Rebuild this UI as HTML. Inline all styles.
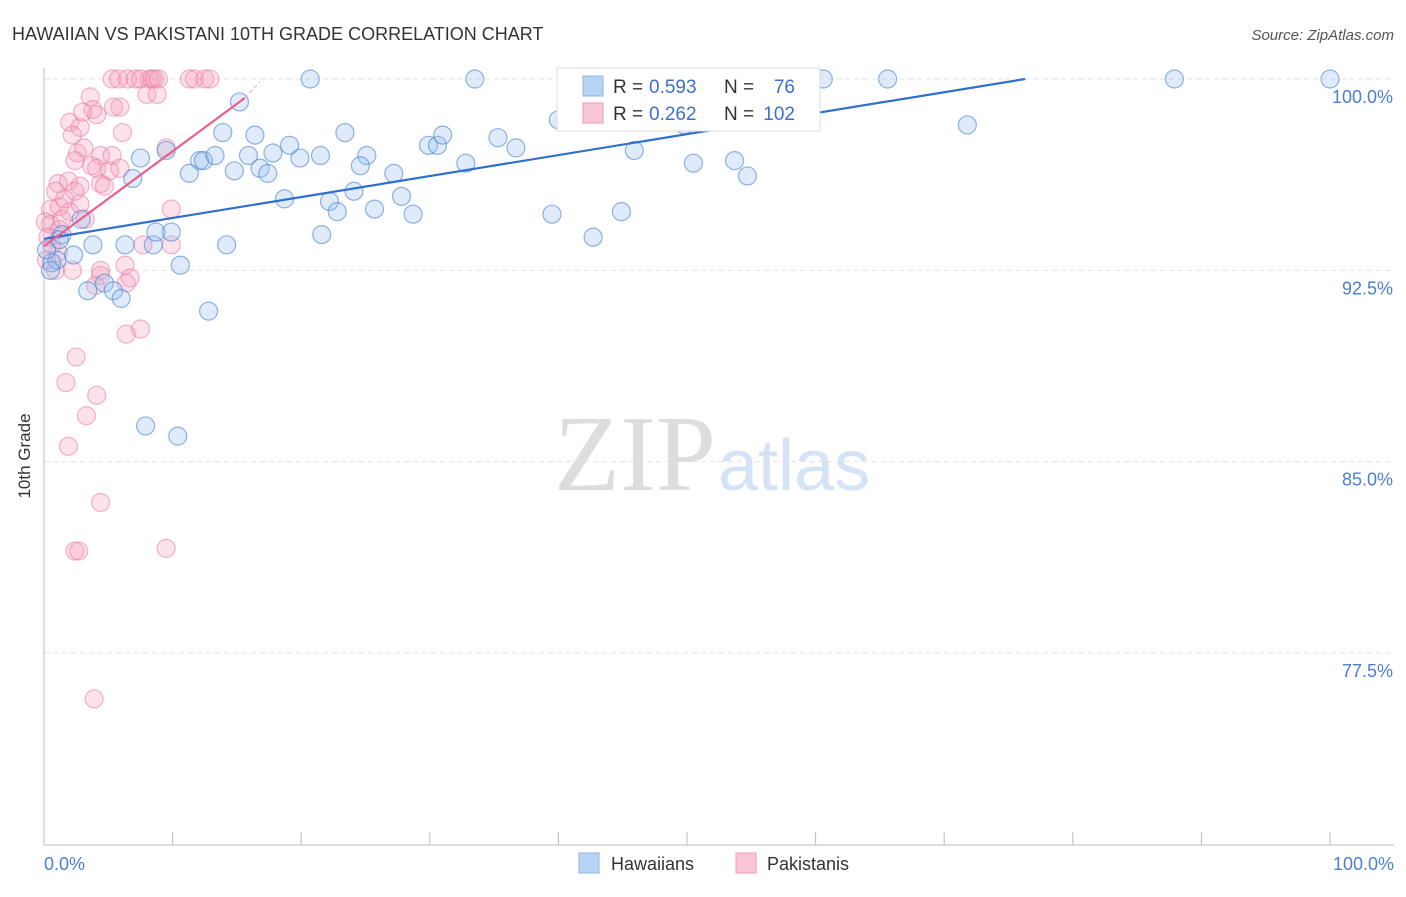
<!DOCTYPE html>
<html><head><meta charset="utf-8"><style>
body{margin:0;background:#fff;font-family:"Liberation Sans",sans-serif}
</style></head><body>
<svg width="1406" height="892" viewBox="0 0 1406 892">
<text x="12" y="40" font-size="18" fill="#333">HAWAIIAN VS PAKISTANI 10TH GRADE CORRELATION CHART</text>
<text x="1394" y="40" font-size="15" fill="#555" text-anchor="end" font-style="italic">Source: ZipAtlas.com</text>
<text x="716" y="490" font-size="108" fill="#ddd" text-anchor="end" font-family="Liberation Serif">ZIP</text>
<text x="718" y="490" font-size="72" fill="#d4e3f5">atlas</text>
<g id="grid"></g>
<line x1="44" y1="68" x2="44" y2="845" stroke="#bbb"/>
<line x1="44" y1="845" x2="1394" y2="845" stroke="#bbb"/>
<g id="pts"></g>
<g id="lines"></g>
<text x="30" y="456" font-size="17" fill="#333" text-anchor="middle" transform="rotate(-90 30 456)">10th Grade</text>
<text x="44" y="870" font-size="18" fill="#4a7fd4">0.0%</text>
<text x="1394" y="870" font-size="18" fill="#4a7fd4" text-anchor="end">100.0%</text>
<g>
<rect x="557" y="68" width="263" height="63" fill="#fff" stroke="#ddd"/>
<rect x="583" y="76" width="20" height="20" fill="#b9d3f5" stroke="#8fb3e8"/>
<rect x="583" y="103" width="20" height="20" fill="#fbc7d6" stroke="#f29ab5"/>
<text x="613" y="93" font-size="19" fill="#333">R =</text>
<text x="649" y="93" font-size="19" fill="#3c6fd1">0.593</text>
<text x="724" y="93" font-size="19" fill="#333">N =</text>
<text x="795" y="93" font-size="19" fill="#3c6fd1" text-anchor="end">76</text>
<text x="613" y="120" font-size="19" fill="#333">R =</text>
<text x="649" y="120" font-size="19" fill="#3c6fd1">0.262</text>
<text x="724" y="120" font-size="19" fill="#333">N =</text>
<text x="795" y="120" font-size="19" fill="#3c6fd1" text-anchor="end">102</text>
</g>
<g>
<rect x="579" y="853" width="20" height="20" fill="#b9d3f5" stroke="#8fb3e8"/>
<text x="611" y="870" font-size="18" fill="#333">Hawaiians</text>
<rect x="736" y="853" width="20" height="20" fill="#fbc7d6" stroke="#f29ab5"/>
<text x="767" y="870" font-size="18" fill="#333">Pakistanis</text>
</g>
</svg>
<script>
const yTicks=[100,92.5,85,77.5];
const yTickLabels=["100.0%","92.5%","85.0%","77.5%"];
const xTicks=[0,10,20,30,40,50,60,70,80,90,100];
const blueX=[15.2,13.9,16.4,7.5,12.1,12.4,13.3,15.9,17.8,19.1,19.9,21.5,23.4,25.1,24.6,27.2,14.8,16.8,17.4,11.3,6.9,9.5,2.9,1.4,3.8,6.3,8.5,9.9,8.7,14.2,10.6,2.3,1.0,0.6,3.4,4.7,5.4,6.0,12.8,7.9,10.4,18.7,22.2,22.8,24.1,25.7,27.8,28.7,21.6,29.9,30.6,31.0,32.8,35.3,36.7,33.5,20.7,40.0,39.5,42.7,44.9,45.9,49.8,50.5,53.7,54.7,60.6,65.6,71.8,87.9,100,49.9,0.2,0.5,1.2];
const blueY=[99.1,97.9,97.8,96.9,96.8,96.8,97.0,97.0,97.1,97.4,96.9,97.0,97.9,97.0,96.6,96.3,96.4,96.5,96.3,96.3,96.1,97.2,94.5,93.9,93.5,93.5,93.5,94.0,94.0,93.5,92.7,93.1,92.9,92.8,91.7,92.0,91.7,91.4,90.9,86.4,86.0,95.3,95.2,94.8,95.6,94.9,95.4,94.7,93.9,97.4,97.4,97.8,96.7,97.7,97.3,100,100,98.4,94.7,93.8,94.8,97.2,98.2,96.7,96.8,96.2,100,100,98.2,100,100,100,93.3,92.5,93.7];
const pinkX=[5.3,5.8,6.5,7.1,7.5,8.2,8.4,8.6,8.9,11.3,11.7,12.5,12.9,8.0,8.8,3.6,2.0,2.8,3.8,4.1,5.9,3.0,5.4,2.2,2.6,4.4,5.3,4.1,5.1,3.7,3.1,6.1,2.4,5.9,1.1,1.9,2.8,4.4,4.7,0.5,1.2,2.0,2.8,1.6,0.5,1.2,3.2,0.6,0.2,0.9,2.2,4.4,6.3,6.7,4.0,6.4,4.4,9.9,9.5,9.9,7.7,6.4,7.5,2.5,1.7,4.1,3.3,1.9,4.4,2.4,2.7,9.5,3.9,0.1,0.9,1.4,2.4,0.3,1.1];
const pinkY=[100,100,100,100,100,100,100,100,100,100,100,100,100,99.4,99.4,99.3,98.3,98.1,98.8,98.6,98.9,98.7,98.9,97.8,97.1,97.0,97.0,96.5,96.4,96.6,97.3,97.9,96.8,96.5,95.9,96.0,95.8,95.9,95.8,94.9,95.0,94.8,95.1,95.3,94.3,94.1,94.5,93.5,92.9,92.5,92.5,92.5,92.7,92.2,91.9,92.0,92.3,94.9,97.3,93.5,93.5,90.0,90.2,89.1,88.1,87.6,86.8,85.6,83.4,81.5,81.5,81.6,75.7,94.4,95.6,94.5,95.6,93.8,93.2];
const NS="http://www.w3.org/2000/svg";
function xs(v){return 44+v*12.86;}
function ys(v){return 79+(100-v)*25.51;}
function mk(tag,attrs,parent){const e=document.createElementNS(NS,tag);for(const k in attrs)e.setAttribute(k,attrs[k]);parent.appendChild(e);return e;}
const grid=document.getElementById('grid');
yTicks.forEach((t,i)=>{
 const l=mk('line',{x1:44,x2:1394,y1:ys(t),y2:ys(t),stroke:'#e3e3e3','stroke-dasharray':'5,4'},grid);
 
 
 const tx=mk('text',{x:1393,y:ys(t)+24,'font-size':18,fill:'#4a7fd4','text-anchor':'end'},grid);
 tx.textContent=yTickLabels[i];
 
 
});
xTicks.forEach(t=>{
 const l=mk('line',{x1:xs(t),x2:xs(t),y1:832,y2:845,stroke:'#bbb'},grid);
 
 
});
const pts=document.getElementById('pts');
pinkX.forEach((x,i)=>{
 const c=mk('circle',{cx:xs(x),cy:ys(pinkY[i]),r:9,fill:'rgba(246,160,188,0.3)',stroke:'rgba(236,120,158,0.55)','stroke-width':1.2},pts);
 
 
});
blueX.forEach((x,i)=>{
 const c=mk('circle',{cx:xs(x),cy:ys(blueY[i]),r:9,fill:'rgba(150,188,238,0.3)',stroke:'rgba(70,130,210,0.6)','stroke-width':1.2},pts);
 
 
});
const lines=document.getElementById('lines');
const bl=mk('line',{x1:xs(0),y1:ys(93.73),x2:xs(76.3),y2:ys(100),stroke:'#2f6fd0','stroke-width':2.2},lines);


const pl=mk('line',{x1:xs(0),y1:ys(93.45),x2:xs(15.6),y2:ys(99.25),stroke:'#e8608a','stroke-width':2.2},lines);


const pd=mk('line',{x1:xs(15.6),y1:ys(99.25),x2:xs(16.8),y2:ys(99.9),stroke:'#f0a0b8','stroke-width':1,'stroke-dasharray':'4,3'},lines);


</script>
</body></html>
